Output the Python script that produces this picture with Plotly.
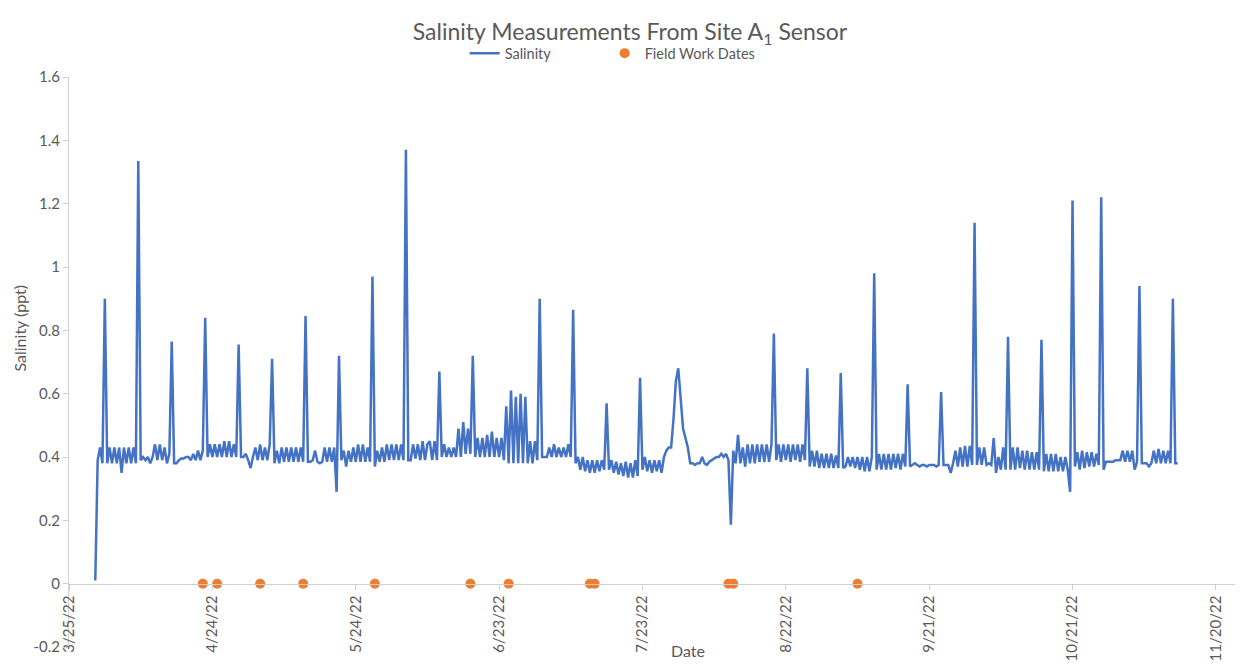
import pandas as pd
import plotly.graph_objects as go

# ---------------- data ----------------
first_reading = "2022-03-30 12:00"   # first logged sample
reading_interval = "12h"             # logging interval

# salinity (ppt), consecutive 12-hour readings
sal_mar30_apr27 = [
    0.01, 0.39, 0.43, 0.38, 0.90, 0.38, 0.43, 0.38, 0.43, 0.38, 0.43, 0.35, 0.43, 0.38,
    0.43, 0.38, 0.43, 0.38, 1.335, 0.39, 0.40, 0.39, 0.40, 0.38, 0.40, 0.44, 0.39, 0.44,
    0.39, 0.43, 0.38, 0.41, 0.765, 0.38, 0.38, 0.39, 0.395, 0.395, 0.40, 0.40, 0.39, 0.41,
    0.39, 0.42, 0.39, 0.42, 0.84, 0.40, 0.44, 0.40, 0.44, 0.40, 0.44, 0.40, 0.45, 0.40,
]
sal_apr27_may25 = [
    0.45, 0.40, 0.44, 0.40, 0.755, 0.40, 0.40, 0.41, 0.39, 0.365, 0.40, 0.43, 0.39, 0.44,
    0.39, 0.43, 0.39, 0.44, 0.71, 0.38, 0.42, 0.38, 0.43, 0.385, 0.43, 0.385, 0.43, 0.385,
    0.43, 0.385, 0.43, 0.385, 0.845, 0.385, 0.385, 0.39, 0.42, 0.385, 0.38, 0.385, 0.43, 0.385,
    0.43, 0.385, 0.43, 0.29, 0.72, 0.39, 0.42, 0.37, 0.42, 0.385, 0.43, 0.385, 0.44, 0.385,
]
sal_may25_jun22 = [
    0.44, 0.385, 0.43, 0.385, 0.97, 0.37, 0.42, 0.385, 0.43, 0.385, 0.44, 0.39, 0.44, 0.39,
    0.44, 0.39, 0.44, 0.39, 1.37, 0.39, 0.39, 0.44, 0.395, 0.44, 0.39, 0.45, 0.39, 0.44,
    0.45, 0.39, 0.45, 0.39, 0.67, 0.40, 0.44, 0.40, 0.43, 0.40, 0.43, 0.40, 0.49, 0.40,
    0.51, 0.41, 0.49, 0.41, 0.72, 0.40, 0.46, 0.40, 0.46, 0.40, 0.47, 0.40, 0.48, 0.40,
]
sal_jun22_jul20 = [
    0.46, 0.40, 0.46, 0.39, 0.56, 0.38, 0.61, 0.38, 0.59, 0.38, 0.60, 0.38, 0.59, 0.38,
    0.45, 0.38, 0.45, 0.39, 0.90, 0.40, 0.40, 0.40, 0.43, 0.40, 0.44, 0.40, 0.43, 0.40,
    0.43, 0.40, 0.44, 0.40, 0.865, 0.38, 0.40, 0.36, 0.40, 0.355, 0.39, 0.35, 0.39, 0.35,
    0.39, 0.355, 0.39, 0.36, 0.57, 0.36, 0.39, 0.35, 0.385, 0.345, 0.38, 0.34, 0.385, 0.335,
]
sal_jul20_aug17 = [
    0.38, 0.335, 0.39, 0.34, 0.65, 0.36, 0.40, 0.355, 0.39, 0.35, 0.39, 0.355, 0.39, 0.35,
    0.40, 0.42, 0.43, 0.43, 0.52, 0.64, 0.68, 0.58, 0.49, 0.46, 0.43, 0.38, 0.38, 0.375,
    0.38, 0.38, 0.40, 0.38, 0.375, 0.385, 0.39, 0.395, 0.40, 0.40, 0.41, 0.40, 0.41, 0.39,
    0.186, 0.42, 0.38, 0.47, 0.38, 0.43, 0.37, 0.44, 0.38, 0.44, 0.38, 0.44, 0.385, 0.44,
]
sal_aug17_sep14 = [
    0.385, 0.44, 0.385, 0.44, 0.79, 0.39, 0.44, 0.385, 0.44, 0.39, 0.44, 0.385, 0.44, 0.39,
    0.44, 0.385, 0.44, 0.39, 0.68, 0.37, 0.42, 0.37, 0.42, 0.365, 0.41, 0.365, 0.41, 0.365,
    0.41, 0.365, 0.405, 0.365, 0.665, 0.365, 0.37, 0.40, 0.37, 0.40, 0.365, 0.40, 0.36, 0.40,
    0.355, 0.40, 0.355, 0.40, 0.98, 0.36, 0.41, 0.36, 0.41, 0.36, 0.41, 0.36, 0.41, 0.365,
]
sal_sep14_oct12 = [
    0.41, 0.36, 0.41, 0.37, 0.63, 0.37, 0.375, 0.38, 0.375, 0.37, 0.375, 0.375, 0.37, 0.375,
    0.375, 0.375, 0.37, 0.375, 0.605, 0.375, 0.375, 0.375, 0.35, 0.38, 0.42, 0.37, 0.43, 0.37,
    0.435, 0.37, 0.435, 0.375, 1.14, 0.375, 0.43, 0.375, 0.43, 0.375, 0.38, 0.375, 0.46, 0.35,
    0.40, 0.36, 0.43, 0.36, 0.78, 0.36, 0.43, 0.36, 0.43, 0.365, 0.42, 0.36, 0.42, 0.36,
]
sal_oct12_nov12 = [
    0.415, 0.36, 0.415, 0.36, 0.77, 0.355, 0.41, 0.355, 0.41, 0.355, 0.41, 0.355, 0.40, 0.355,
    0.40, 0.36, 0.29, 1.21, 0.37, 0.415, 0.36, 0.42, 0.365, 0.415, 0.37, 0.415, 0.37, 0.41,
    0.375, 1.22, 0.36, 0.385, 0.385, 0.385, 0.385, 0.39, 0.39, 0.39, 0.42, 0.385, 0.42, 0.385,
    0.42, 0.36, 0.385, 0.94, 0.38, 0.38, 0.38, 0.37, 0.38, 0.42, 0.38, 0.425, 0.38, 0.42,
    0.38, 0.42, 0.38, 0.90, 0.38, 0.38,
]

field_work_dates = ["2022-04-22", "2022-04-25", "2022-05-04", "2022-05-13", "2022-05-28",
                    "2022-06-17", "2022-06-25", "2022-07-12", "2022-07-13", "2022-08-10",
                    "2022-08-11", "2022-09-06"]
field_work_values = [0, 0, 0, 0, 0, 0, 0, 0, 0, 0, 0, 0]

y_ticks = [-0.2, 0, 0.2, 0.4, 0.6, 0.8, 1.0, 1.2, 1.4, 1.6]
y_tick_labels = ["-0.2", "0", "0.2", "0.4", "0.6", "0.8", "1", "1.2", "1.4", "1.6"]
x_first_tick = "2022-03-25"
x_range = ["2022-03-25", "2022-11-24"]
x_tick_days = 30

# ---------------- figure ----------------
salinity = (sal_mar30_apr27 + sal_apr27_may25 + sal_may25_jun22 + sal_jun22_jul20
            + sal_jul20_aug17 + sal_aug17_sep14 + sal_sep14_oct12 + sal_oct12_nov12)
reading_times = pd.date_range(first_reading, periods=len(salinity), freq=reading_interval)

TEXT = "#595959"
AXIS = "#D0D0D0"
FONT = "Lato, 'Open Sans', sans-serif"

fig = go.Figure()
fig.add_trace(go.Scatter(x=reading_times, y=salinity, mode="lines", name="Salinity",
                         line=dict(color="#4472C4", width=2.5), legend="legend"))
fig.add_trace(go.Scatter(x=pd.to_datetime(field_work_dates), y=field_work_values,
                         mode="markers", name="Field Work Dates",
                         marker=dict(color="#ED7D31", size=10), legend="legend2"))

W, H = 1249, 665
L, R, T, B = 69.4, 13.8, 76.8, 17.6
pw = W - L - R
ph = H - T - B
legend_y = (H - B - 53) / ph

fig.update_layout(
    width=W, height=H,
    paper_bgcolor="white", plot_bgcolor="white",
    margin=dict(l=L, r=R, t=T, b=B, autoexpand=False),
    font=dict(family=FONT, color=TEXT, size=15),
    title=dict(text="Salinity Measurements From Site A<sub>1</sub> Sensor",
               x=630 / W, xref="container", xanchor="center",
               y=1 - 32 / H, yref="container", yanchor="middle",
               font=dict(size=23, color=TEXT, family=FONT)),
    showlegend=True,
    legend=dict(orientation="h", x=(465 - L) / pw, xanchor="left",
                y=legend_y, yanchor="middle",
                font=dict(size=14.5, color=TEXT), itemwidth=30,
                bgcolor="rgba(0,0,0,0)"),
    legend2=dict(orientation="h", x=(605 - L) / pw, xanchor="left",
                 y=legend_y, yanchor="middle",
                 font=dict(size=14.5, color=TEXT), itemwidth=30,
                 bgcolor="rgba(0,0,0,0)"),
    xaxis=dict(type="date", range=x_range, tick0=x_first_tick,
               dtick=x_tick_days * 86400000, tickformat="%-m/%-d/%y",
               tickangle=-90, ticks="outside", ticklen=5, tickcolor=AXIS,
               showline=True, linecolor=AXIS, linewidth=1,
               showgrid=False, zeroline=False,
               anchor="free", position=0.2 / 1.8,
               tickfont=dict(size=15, color=TEXT)),
    yaxis=dict(range=[-0.2, 1.6], tickvals=y_ticks, ticktext=y_tick_labels,
               ticks="outside", ticklen=5, tickcolor=AXIS,
               showline=True, linecolor=AXIS, linewidth=1,
               showgrid=False, zeroline=False,
               tickfont=dict(size=15, color=TEXT)),
    annotations=[
        dict(text="Date", xref="paper", yref="paper",
             x=(688 - L) / pw, y=(H - B - 651) / ph,
             xanchor="center", yanchor="middle", showarrow=False,
             font=dict(size=16, color=TEXT)),
        dict(text="Salinity (ppt)", xref="paper", yref="paper",
             x=(20 - L) / pw, y=(H - B - 328) / ph,
             xanchor="center", yanchor="middle", showarrow=False, textangle=-90,
             font=dict(size=16, color=TEXT)),
    ],
)

fig.write_html("out.html", config={"displayModeBar": False},
               post_script="document.body.style.margin='0px';document.body.style.overflow='hidden';")
